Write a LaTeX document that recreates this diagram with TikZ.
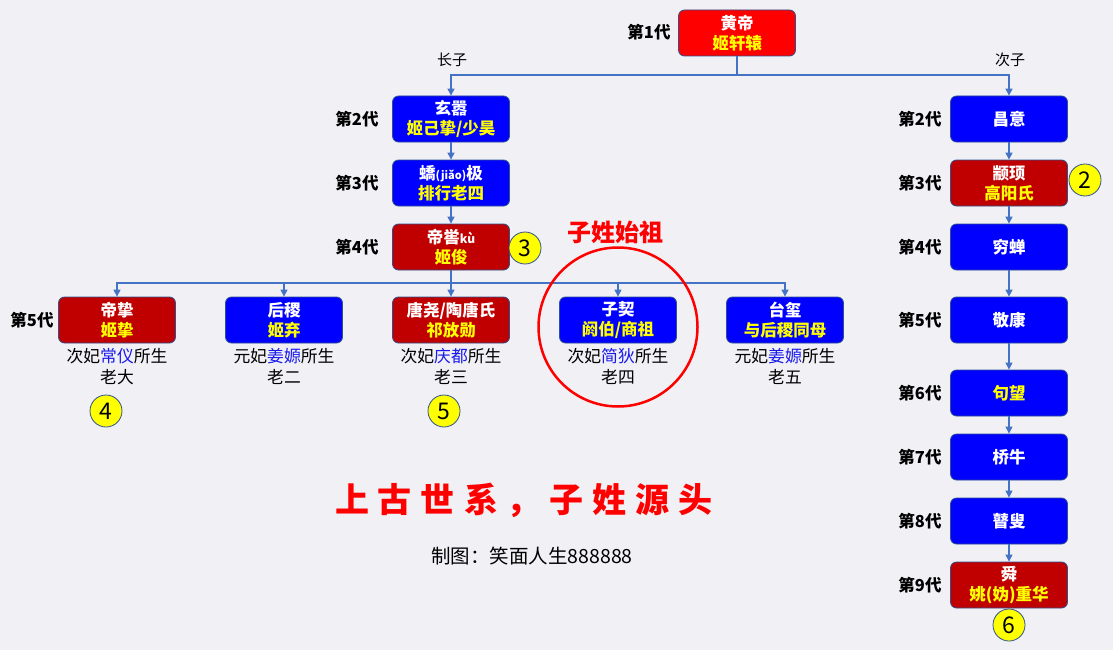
\documentclass[tikz,border=0pt]{standalone}
\usepackage{fontspec}
\setmainfont{Noto Sans CJK SC}
\usetikzlibrary{arrows.meta}
\definecolor{bg}{RGB}{240,240,245}
\definecolor{bred}{RGB}{255,0,0}
\definecolor{dred}{RGB}{192,0,0}
\definecolor{bblue}{RGB}{0,0,255}
\definecolor{edge}{RGB}{47,82,143}
\definecolor{conn}{RGB}{68,114,196}
\definecolor{ylw}{RGB}{255,255,0}
\definecolor{subblue}{RGB}{25,25,235}
\newcommand{\ytxt}[1]{\textcolor{ylw}{#1}}
\newcommand{\btxt}[1]{\textcolor{subblue}{#1}}
\tikzset{
 box/.style={draw=edge, line width=0.8pt, rounded corners=6pt, minimum width=117pt, minimum height=46pt, inner sep=0pt, align=center, text=white, font=\fontsize{16.5}{20}\selectfont\bfseries},
 redbox/.style={box, fill=bred},
 dredbox/.style={box, fill=dred},
 bluebox/.style={box, fill=bblue},
 gen/.style={font=\fontsize{16.5}{20}\selectfont\bfseries, text=black},
 sub/.style={font=\fontsize{16.8}{21}\selectfont, align=center, text=black},
 son/.style={font=\fontsize{15}{18}\selectfont, text=black},
 num/.style={circle, draw=edge, line width=0.8pt, fill=ylw, minimum size=32pt, inner sep=0pt, font=\fontsize{23}{23}\selectfont},
 link/.style={draw=conn, line width=1.2pt},
 arr/.style={link, -{Triangle[length=7pt,width=7pt]}},
}
\begin{document}
\begin{tikzpicture}[x=1pt,y=-1pt]
\fill[bg] (0,0) rectangle (1113,650);
\useasboundingbox (0,0) rectangle (1113,650);

% generation 1
\node[redbox] (hd) at (737,33) {黄帝\\\ytxt{姬轩辕}};
\node[gen] (g1) at (649,32) {第1代};

% left line
\node[bluebox] (xx) at (451,119) {玄嚣\\\ytxt{姬己挚/少昊}};
\node[bluebox] (jj) at (451,183) {蟜{\fontsize{11}{11}\selectfont(jiǎo)}极\\\ytxt{排行老四}};
\node[dredbox] (dk) at (451,247) {帝喾{\fontsize{12}{12}\selectfont kù}\\\ytxt{姬俊}};
\node[gen] (lg2) at (357,119) {第2代};
\node[gen] (lg3) at (357,183) {第3代};
\node[gen] (lg4) at (357,247) {第4代};
\node[gen] (lg5) at (32,320) {第5代};

% generation 5
\node[dredbox] (dz) at (117,320) {帝挚\\\ytxt{姬挚}};
\node[bluebox] (hj) at (284,320) {后稷\\\ytxt{姬弃}};
\node[dredbox] (ty) at (451,320) {唐尧/陶唐氏\\\ytxt{祁放勋}};
\node[bluebox] (zq) at (618,320) {子契\\\ytxt{阏伯/商祖}};
\node[bluebox] (tx) at (785,320) {台玺\\\ytxt{与后稷同母}};
\node[sub] (s1) at (117,366.5) {次妃\btxt{常仪}所生\\老大};
\node[sub] (s2) at (284,366.5) {元妃\btxt{姜嫄}所生\\老二};
\node[sub] (s3) at (451,366.5) {次妃\btxt{庆都}所生\\老三};
\node[sub] (s4) at (618,366.5) {次妃\btxt{简狄}所生\\老四};
\node[sub] (s5) at (785,366.5) {元妃\btxt{姜嫄}所生\\老五};

% right line
\node[bluebox] (cy) at (1009,119) {昌意};
\node[dredbox] (zx) at (1009,183) {颛顼\\\ytxt{高阳氏}};
\node[bluebox] (qc) at (1009,247) {穷蝉};
\node[bluebox] (jk) at (1009,320) {敬康};
\node[bluebox] (gw) at (1009,393) {\ytxt{句望}};
\node[bluebox] (qn) at (1009,457) {桥牛};
\node[bluebox] (gs) at (1009,521) {瞽叟};
\node[dredbox] (sh) at (1009,585) {舜\\\ytxt{姚(妫)重华}};
\node[gen] (rg2) at (920,119) {第2代};
\node[gen] (rg3) at (920,183) {第3代};
\node[gen] (rg4) at (920,247) {第4代};
\node[gen] (rg5) at (920,320) {第5代};
\node[gen] (rg6) at (920,393) {第6代};
\node[gen] (rg7) at (920,457) {第7代};
\node[gen] (rg8) at (920,521) {第8代};
\node[gen] (rg9) at (920,585) {第9代};

% numbered circles
\node[num] (n2) at (1085,180) {2};
\node[num] (n3) at (525,248) {3};
\node[num] (n4) at (106,411) {4};
\node[num] (n5) at (444,411) {5};
\node[num] (n6) at (1009,625) {6};

% son labels
\node[son] (lz) at (452,60) {长子};
\node[son] (cz) at (1010,60) {次子};

% connectors
\coordinate (j1) at (737,75);
\draw[link] (hd) -- (j1);
\draw[arr] (j1) -| (xx);
\draw[arr] (j1) -| (cy);
\draw[arr] (xx) -- (jj);
\draw[arr] (jj) -- (dk);
\coordinate (j2) at (451,283);
\draw[link] (dk) -- (j2);
\draw[arr] (j2) -| (dz);
\draw[arr] (j2) -| (hj);
\draw[arr] (j2) -- (ty);
\draw[arr] (j2) -| (zq);
\draw[arr] (j2) -| (tx);
\draw[arr] (cy) -- (zx);
\draw[arr] (zx) -- (qc);
\draw[arr] (qc) -- (jk);
\draw[arr] (jk) -- (gw);
\draw[arr] (gw) -- (qn);
\draw[arr] (qn) -- (gs);
\draw[arr] (gs) -- (sh);

% highlight
\node[circle, draw=red, line width=2.5pt, minimum size=159pt, inner sep=0pt] (ring) at (618,327) {};
\node[text=red, font=\fontsize{24}{26}\selectfont\bfseries] (zs) at (615,232) {子姓始祖};

% title and credit
\node[text=red, font=\fontsize{34}{36}\selectfont\bfseries] (tt) at (524,500) {上\hspace{9pt}古\hspace{9pt}世\hspace{9pt}系\hspace{9pt}，\hspace{9pt}子\hspace{9pt}姓\hspace{9pt}源\hspace{9pt}头};
\node[font=\fontsize{19.5}{22}\selectfont, text=black] (cr) at (532,556) {制图：笑面人生888888};
\end{tikzpicture}
\end{document}
